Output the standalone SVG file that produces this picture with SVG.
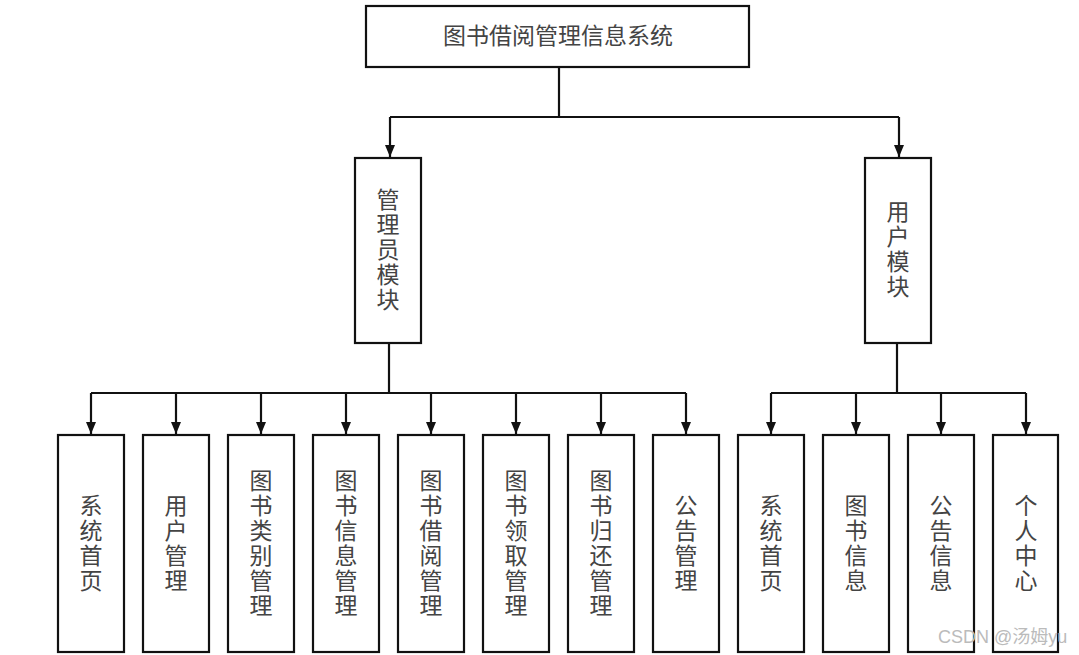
<svg xmlns="http://www.w3.org/2000/svg" width="1079" height="655" viewBox="0 0 1079 655">
<style>
.box{fill:#fff;stroke:#111;stroke-width:2.2}
.t{font-family:"Liberation Serif","Noto Sans CJK SC",serif;font-size:23px;fill:#444;text-anchor:middle;dominant-baseline:central}
.ln{fill:none;stroke:#111;stroke-width:2.2}
.wm{font-family:"Liberation Sans","Noto Sans CJK SC",sans-serif;font-size:18px;fill:#bbb}
</style>
<defs>
<marker id="ah" viewBox="0 0 12 10" refX="12" refY="5" markerWidth="12" markerHeight="10" markerUnits="userSpaceOnUse" orient="auto">
<path d="M0,0 L12,5 L0,10 Z" fill="#111"/>
</marker>
</defs>
<rect width="1079" height="655" fill="#fff"/>
<g id="connectors">
<path class="ln" d="M559,67 V117"/>
<path class="ln" d="M390,117 H899"/>
<path class="ln" d="M390,117 V157" marker-end="url(#ah)"/>
<path class="ln" d="M899,117 V157" marker-end="url(#ah)"/>
<path class="ln" d="M389,343 V393"/>
<path class="ln" d="M91,393 H686"/>
<path class="ln" d="M897,343 V393"/>
<path class="ln" d="M771,393 H1026"/>
<g marker-end="url(#ah)">
<path class="ln" d="M91,393 V434"/>
<path class="ln" d="M176,393 V434"/>
<path class="ln" d="M261,393 V434"/>
<path class="ln" d="M346,393 V434"/>
<path class="ln" d="M431,393 V434"/>
<path class="ln" d="M516,393 V434"/>
<path class="ln" d="M601,393 V434"/>
<path class="ln" d="M686,393 V434"/>
<path class="ln" d="M771,393 V434"/>
<path class="ln" d="M856,393 V434"/>
<path class="ln" d="M941,393 V434"/>
<path class="ln" d="M1026,393 V434"/>
</g>
</g>
<g id="root">
<rect class="box" x="366" y="6" width="383" height="61"/>
<text class="t" x="558" y="36">图书借阅管理信息系统</text>
</g>
<g id="admin">
<rect class="box" x="355" y="158" width="66" height="185"/>
<text class="t" x="388"><tspan x="388" y="200">管</tspan><tspan x="388" y="225">理</tspan><tspan x="388" y="250">员</tspan><tspan x="388" y="275">模</tspan><tspan x="388" y="300">块</tspan></text>
</g>
<g id="user">
<rect class="box" x="865" y="158" width="66" height="185"/>
<text class="t" x="898"><tspan x="898" y="212">用</tspan><tspan x="898" y="237">户</tspan><tspan x="898" y="262">模</tspan><tspan x="898" y="287">块</tspan></text>
</g>
<g id="n1">
<rect class="box" x="58" y="435" width="66" height="217"/>
<text class="t"><tspan x="91" y="506">系</tspan><tspan x="91" y="531">统</tspan><tspan x="91" y="556">首</tspan><tspan x="91" y="581">页</tspan></text>
</g>
<g id="n2">
<rect class="box" x="143" y="435" width="66" height="217"/>
<text class="t"><tspan x="176" y="506">用</tspan><tspan x="176" y="531">户</tspan><tspan x="176" y="556">管</tspan><tspan x="176" y="581">理</tspan></text>
</g>
<g id="n3">
<rect class="box" x="228" y="435" width="66" height="217"/>
<text class="t"><tspan x="261" y="481">图</tspan><tspan x="261" y="506">书</tspan><tspan x="261" y="531">类</tspan><tspan x="261" y="556">别</tspan><tspan x="261" y="581">管</tspan><tspan x="261" y="606">理</tspan></text>
</g>
<g id="n4">
<rect class="box" x="313" y="435" width="66" height="217"/>
<text class="t"><tspan x="346" y="481">图</tspan><tspan x="346" y="506">书</tspan><tspan x="346" y="531">信</tspan><tspan x="346" y="556">息</tspan><tspan x="346" y="581">管</tspan><tspan x="346" y="606">理</tspan></text>
</g>
<g id="n5">
<rect class="box" x="398" y="435" width="66" height="217"/>
<text class="t"><tspan x="431" y="481">图</tspan><tspan x="431" y="506">书</tspan><tspan x="431" y="531">借</tspan><tspan x="431" y="556">阅</tspan><tspan x="431" y="581">管</tspan><tspan x="431" y="606">理</tspan></text>
</g>
<g id="n6">
<rect class="box" x="483" y="435" width="66" height="217"/>
<text class="t"><tspan x="516" y="481">图</tspan><tspan x="516" y="506">书</tspan><tspan x="516" y="531">领</tspan><tspan x="516" y="556">取</tspan><tspan x="516" y="581">管</tspan><tspan x="516" y="606">理</tspan></text>
</g>
<g id="n7">
<rect class="box" x="568" y="435" width="66" height="217"/>
<text class="t"><tspan x="601" y="481">图</tspan><tspan x="601" y="506">书</tspan><tspan x="601" y="531">归</tspan><tspan x="601" y="556">还</tspan><tspan x="601" y="581">管</tspan><tspan x="601" y="606">理</tspan></text>
</g>
<g id="n8">
<rect class="box" x="653" y="435" width="66" height="217"/>
<text class="t"><tspan x="686" y="506">公</tspan><tspan x="686" y="531">告</tspan><tspan x="686" y="556">管</tspan><tspan x="686" y="581">理</tspan></text>
</g>
<g id="n9">
<rect class="box" x="738" y="435" width="66" height="217"/>
<text class="t"><tspan x="771" y="506">系</tspan><tspan x="771" y="531">统</tspan><tspan x="771" y="556">首</tspan><tspan x="771" y="581">页</tspan></text>
</g>
<g id="n10">
<rect class="box" x="823" y="435" width="66" height="217"/>
<text class="t"><tspan x="856" y="506">图</tspan><tspan x="856" y="531">书</tspan><tspan x="856" y="556">信</tspan><tspan x="856" y="581">息</tspan></text>
</g>
<g id="n11">
<rect class="box" x="908" y="435" width="66" height="217"/>
<text class="t"><tspan x="941" y="506">公</tspan><tspan x="941" y="531">告</tspan><tspan x="941" y="556">信</tspan><tspan x="941" y="581">息</tspan></text>
</g>
<g id="n12">
<rect class="box" x="993" y="435" width="65" height="217"/>
<text class="t"><tspan x="1026" y="506">个</tspan><tspan x="1026" y="531">人</tspan><tspan x="1026" y="556">中</tspan><tspan x="1026" y="581">心</tspan></text>
</g>
<text class="wm" x="938" y="643">CSDN @汤姆yu</text>
</svg>
